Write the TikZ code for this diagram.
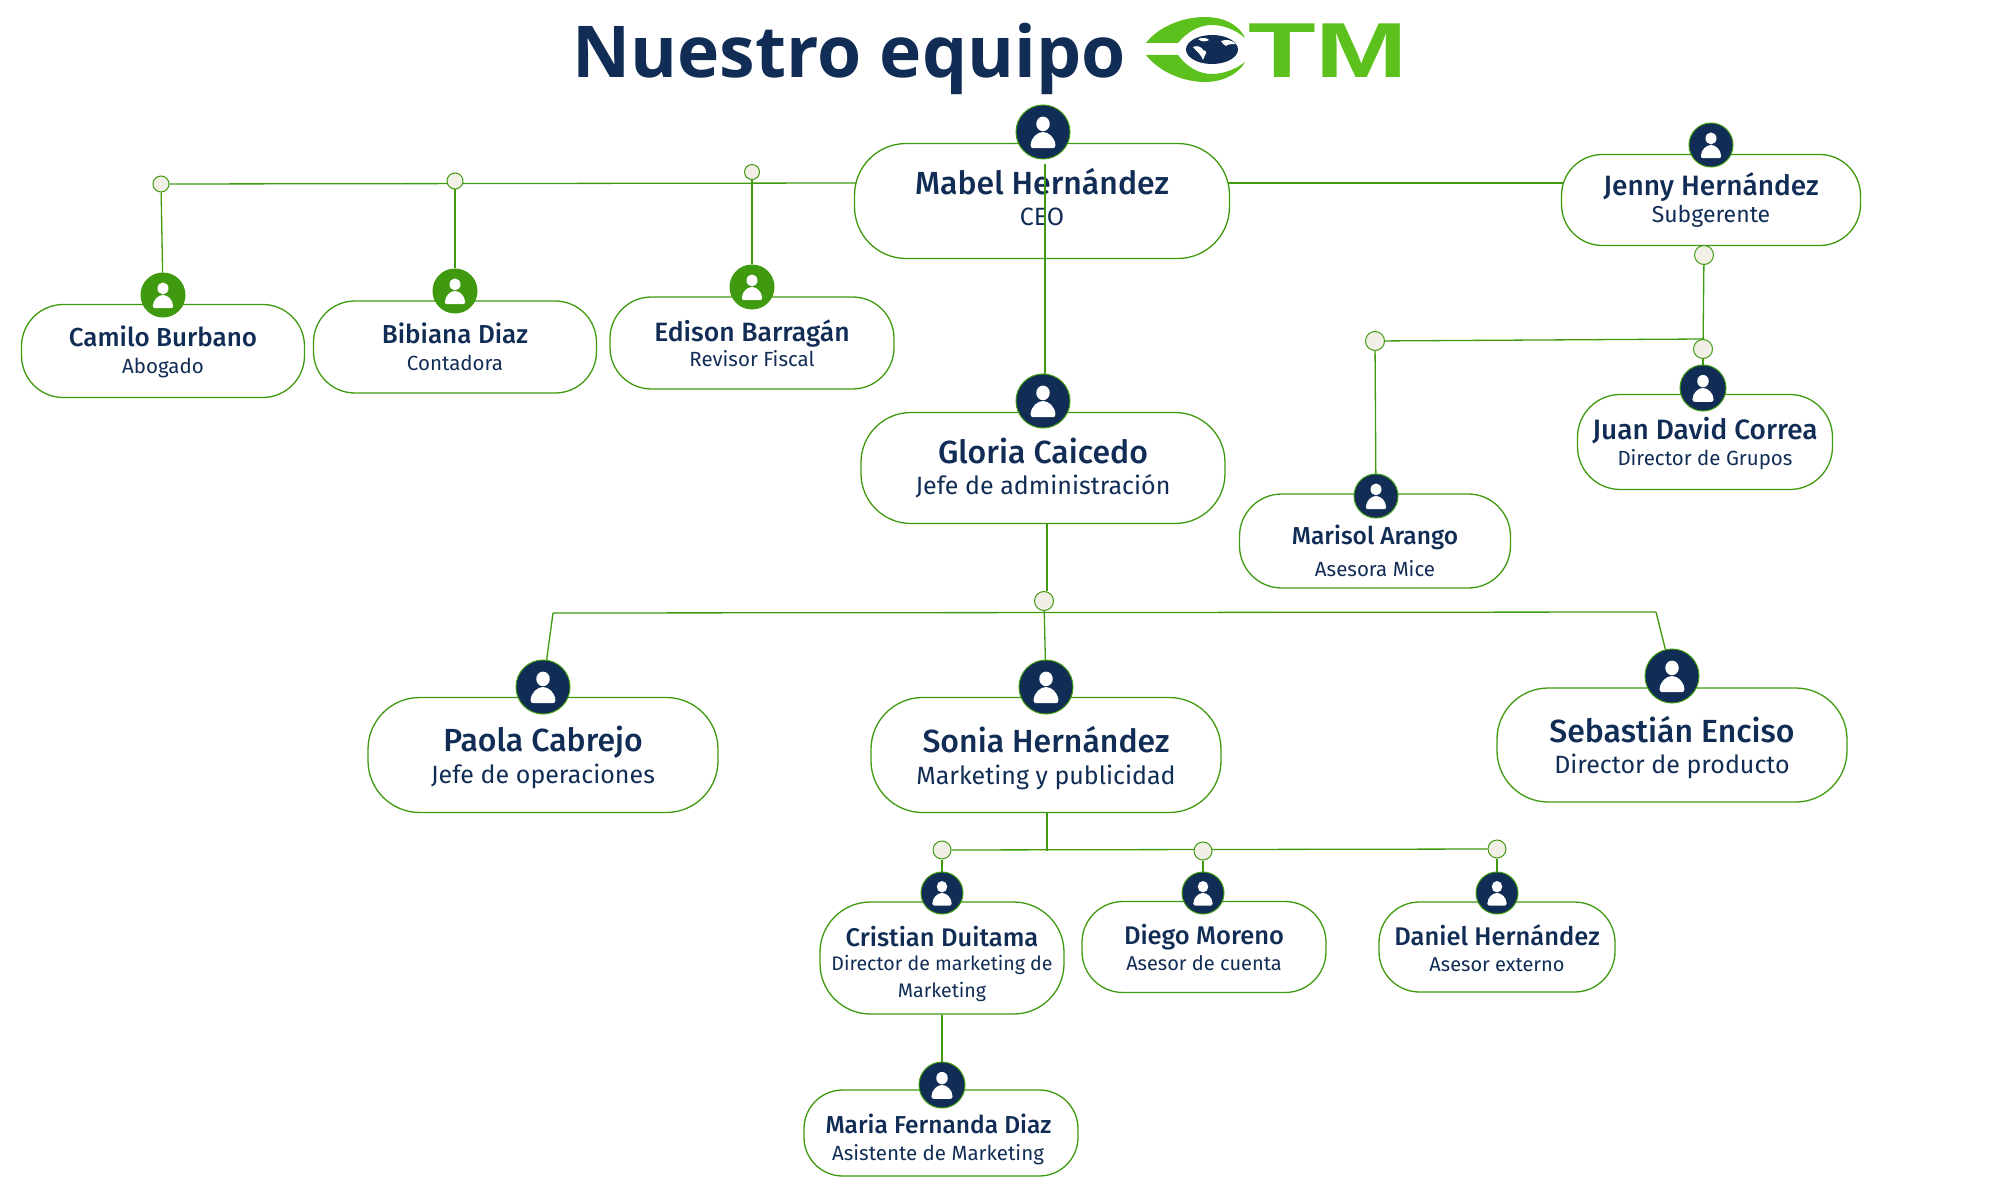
\documentclass[tikz,border=0pt]{standalone}
\usepackage{fontspec}
\setmainfont[BoldFont={Fira Sans Medium}]{Fira Sans}
\newfontfamily\titulofont{Open Sans}
\newfontfamily\logofont{Liberation Sans}
\usetikzlibrary{backgrounds}
\definecolor{azul}{HTML}{112D55}
\definecolor{verde}{HTML}{3F9A10}
\definecolor{verdelogo}{HTML}{5CC11C}
\definecolor{crema}{HTML}{F2EFE6}
\newcommand{\nombre}[1]{{\bfseries\fontsize{\tamano}{\tamano}\selectfont #1}}
\newcommand{\bajar}[1]{\rule{0pt}{#1pt}}
\newcommand{\subir}[1]{\rule[-#1pt]{0pt}{#1pt}}
\begin{document}
\begin{tikzpicture}[x=1pt, y=-1pt,
  pill/.style 2 args = {shape=rectangle, draw=verde, fill=white, line width=1.3pt, align=center, text=azul, inner sep=0pt,
    minimum width=#1 pt, minimum height=#2 pt, rounded corners=#2*0.45pt},
  grande/.style = {font=\def\tamano{32}\fontsize{25}{32}\selectfont},
  chico/.style 2 args = {font=\def\tamano{#1}\fontsize{#2}{27}\selectfont},
  avatar/.style = {shape=circle, draw=verde, fill=azul, line width=1pt, inner sep=0pt, minimum size=#1*2pt,
    path picture={\fill[white, shift={(path picture bounding box.center)}, x=#1 pt, y=#1 pt]
      (0,.3) ellipse (.25 and .27)
      (-.46,-.5) .. controls (-.45,-.2) and (-.2,0) .. (0,0) .. controls (.2,0) and (.45,-.2) .. (.46,-.5)
      .. controls (.46,-.58) and (.4,-.6) .. (.35,-.6) -- (-.35,-.6) .. controls (-.4,-.6) and (-.46,-.58) .. (-.46,-.5) -- cycle;}},
  punto/.style = {shape=circle, draw=verde, fill=crema, line width=1pt, inner sep=0pt, minimum size=#1*2pt},
  enlace/.style = {draw=verde, line width=1.3pt}]
  \useasboundingbox (0,0) rectangle (2000,1190);
  % titulo y logo
  \node[anchor=base west, inner sep=0pt, text=azul, font=\titulofont\bfseries\fontsize{71.5}{72}\selectfont] (titulo) at (572,78) {Nuestro equipo};
  \fill[verdelogo] (1146,43) .. controls (1160,25) and (1185,17) .. (1205,17) .. controls (1225,17) and (1240,26) .. (1245,38)
    .. controls (1235,29) and (1222,25) .. (1212,25) .. controls (1198,25) and (1186,33) .. (1178,43) -- cycle;
  \fill[verdelogo] (1146,55) .. controls (1160,73) and (1185,82) .. (1205,82) .. controls (1225,82) and (1240,72) .. (1245,62)
    .. controls (1235,70) and (1222,74) .. (1212,74) .. controls (1198,74) and (1186,66) .. (1178,55) -- cycle;
  \fill[azul] (1212,49.5) ellipse (26 and 14.5);
  \fill[white] (1193,47) .. controls (1197,45) and (1202,47) .. (1203,50) .. controls (1207,51) and (1207,53) .. (1205,55) -- (1203,60) .. controls (1201,54) and (1196,51) .. (1193,47) -- cycle;
  \fill[white] (1221,41) .. controls (1226,39) and (1232,40) .. (1236,44) .. controls (1232,44) and (1228,44) .. (1226,46) .. controls (1224,45) and (1222,43) .. (1221,41) -- cycle;
  \fill[white] (1198,39) .. controls (1203,37) and (1207,38) .. (1209,40) .. controls (1206,42) and (1201,42) .. (1198,39) -- cycle;
  \node[anchor=base west, inner sep=0pt, text=verdelogo, font=\logofont\bfseries\fontsize{78}{78}\selectfont] (logotm) at (1248,78) {\scalebox{1.42}[1]{TM}};
  % personas
  \node[pill={375}{115}, grande] (mabel) at (1042,201) {\nombre{Mabel Hernández}\\[-1pt]CEO\subir{9}};
  \node[pill={299}{91}, chico={28}{23}] (jenny) at (1711,200) {\nombre{Jenny Hernández}\\Subgerente};
  \node[pill={283}{93}, chico={26}{20.5}] (camilo) at (163,351) {\bajar{22}\nombre{Camilo Burbano}\\Abogado};
  \node[pill={283}{92}, chico={26}{20.5}] (bibiana) at (455,347) {\nombre{Bibiana Diaz}\\Contadora};
  \node[pill={284}{92}, chico={26.5}{20.5}] (edison) at (752,343) {\nombre{Edison Barragán}\\[-2pt]Revisor Fiscal};
  \node[pill={364}{111}, grande] (gloria) at (1043,468) {\nombre{Gloria Caicedo}\\[-1pt]Jefe de administración};
  \node[pill={255}{95}, chico={28}{20.5}] (juan) at (1705,442) {\bajar{26}\nombre{Juan David Correa}\\[-1pt]Director de Grupos};
  \node[pill={271}{94}, chico={24.5}{20.5}] (marisol) at (1375,541) {\bajar{39}\nombre{Marisol Arango}\\[5pt]Asesora Mice};
  \node[pill={350}{115}, grande] (paola) at (543,755) {\bajar{31}\nombre{Paola Cabrejo}\\Jefe de operaciones};
  \node[pill={350}{115}, grande] (sonia) at (1046,755) {\bajar{33}\nombre{Sonia Hernández}\\Marketing y publicidad};
  \node[pill={350}{114}, grande] (sebastian) at (1672,745) {\bajar{31}\nombre{Sebastián Enciso}\\[-1pt]Director de producto};
  \node[pill={244}{112}, chico={25.5}{19.6}] (cristian) at (942,958) {\bajar{32}\nombre{Cristian Duitama}\\[-3pt]Director de marketing de\\Marketing};
  \node[pill={244}{91}, chico={25.5}{20}] (diego) at (1204,947) {\nombre{Diego Moreno}\\[-1pt]Asesor de cuenta};
  \node[pill={236}{90}, chico={25.5}{20}] (daniel) at (1497,947) {\bajar{24}\nombre{Daniel Hernández}\\[-1pt]Asesor externo};
  \node[pill={274}{86}, chico={24.5}{20.5}] (maria) at (941,1133) {\bajar{33}\hspace*{-5pt}\nombre{Maria Fernanda Diaz}\\\hspace*{-6pt}Asistente de Marketing};
  % fotos
  \node[avatar=27] (mabelfoto) at (1043,132) {};
  \node[avatar=22] (jennyfoto) at (1711,145) {};
  \node[avatar=22, fill=verde] (camilofoto) at (163,295) {};
  \node[avatar=22, fill=verde] (bibianafoto) at (455,291) {};
  \node[avatar=22, fill=verde] (edisonfoto) at (752,287) {};
  \node[avatar=27] (gloriafoto) at (1043,401) {};
  \node[avatar=23] (juanfoto) at (1703,388) {};
  \node[avatar=22] (marisolfoto) at (1376,496) {};
  \node[avatar=27] (paolafoto) at (543,687) {};
  \node[avatar=27] (soniafoto) at (1046,687) {};
  \node[avatar=27] (sebastianfoto) at (1672,676) {};
  \node[avatar=21] (cristianfoto) at (942,893) {};
  \node[avatar=21] (diegofoto) at (1203,893) {};
  \node[avatar=21] (danielfoto) at (1497,893) {};
  \node[avatar=23] (mariafoto) at (942,1085) {};
  % puntos
  \node[punto=8] (camilopunto) at (161,184) {};
  \node[punto=8] (bibianapunto) at (455,181) {};
  \node[punto=7.5] (edisonpunto) at (752,172) {};
  \node[punto=9.5] (jennypunto) at (1704,255) {};
  \node[punto=9.5] (juanpunto) at (1703,349) {};
  \node[punto=9.5] (marisolpunto) at (1375,341) {};
  \node[punto=9.5] (gloriapunto) at (1044,601) {};
  \node[punto=9] (cristianpunto) at (942,850) {};
  \node[punto=9] (diegopunto) at (1203,851) {};
  \node[punto=9] (danielpunto) at (1497,849) {};
  % codos y cruces
  \coordinate (mabelizq) at (857,183);
  \coordinate (mabelder) at (1228,183);
  \coordinate (jennyizq) at (1564,183);
  \coordinate (paolacodo) at (553,613);
  \coordinate (sebastiancodo) at (1656,612);
  \coordinate (soniacruce) at (1047,851);
  % enlaces
  \begin{scope}[on background layer]
  \foreach \desde/\hasta in {mabelizq/camilopunto, camilopunto/camilofoto, bibianapunto/bibianafoto,
      edisonpunto/edisonfoto, mabelder/jennyizq, jennypunto/juanpunto, marisolpunto/juanpunto.north, juanpunto/juanfoto, marisolpunto/marisolfoto,
      paolacodo/sebastiancodo, paolacodo/paolafoto, sebastiancodo/sebastianfoto, gloriapunto/soniafoto,
      cristianpunto/danielpunto, cristianpunto/cristianfoto, diegopunto/diegofoto, danielpunto/danielfoto}
    \draw[enlace] (\desde) -- (\hasta);
  \draw[enlace] ([xshift=4pt]gloria.south) -- ([xshift=3pt]gloriapunto.north);
  \draw[enlace] ([xshift=1pt]sonia.south) -- (soniacruce);
  \draw[enlace] (cristian.south) -- (mariafoto);
  \end{scope}
  \draw[enlace] ([xshift=2pt, yshift=-5pt]mabelfoto.south) -- ([xshift=2pt]gloriafoto.north);
\end{tikzpicture}
\end{document}
